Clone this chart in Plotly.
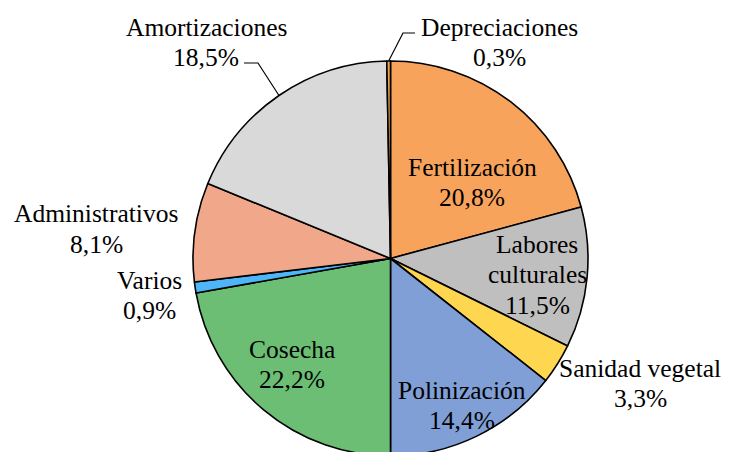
import math
import plotly.graph_objects as go

# data
categorias = ["Fertilización", "Labores culturales", "Sanidad vegetal", "Polinización",
              "Cosecha", "Varios", "Administrativos", "Amortizaciones", "Depreciaciones"]
porcentajes = [20.8, 11.5, 3.3, 14.4, 22.2, 0.9, 8.1, 18.5, 0.3]
etiquetas = [["Fertilización"], ["Labores", "culturales"], ["Sanidad vegetal"], ["Polinización"],
             ["Cosecha"], ["Varios"], ["Administrativos"], ["Amortizaciones"], ["Depreciaciones"]]

colores = ["#F8A35C", "#BFBFBF", "#FFD650", "#7F9FD6", "#6BBE74",
           "#4DB5F8", "#F1A88A", "#D9D9D9", "#E9A54A"]

W, H = 732, 452
OFF = 8  # page body margin: figure sits 8px in from the window corner
cx, cy, r = 390.5, 258.5, 197.5

# label centres (window pixels), first line of each label
label_pos = {
    "Fertilización": (472, 167),
    "Labores culturales": (537, 244),
    "Sanidad vegetal": (640, 368),
    "Polinización": (462, 390),
    "Cosecha": (292, 349),
    "Varios": (149, 280),
    "Administrativos": (96, 214),
    "Amortizaciones": (206, 27),
    "Depreciaciones": (499, 27),
}
# elbow points of leader lines (label end, bend)
leaders = {
    "Amortizaciones": [(244, 63), (258, 63)],
    "Depreciaciones": [(415, 33), (403, 33)],
}
line_gap = 30.5
font = dict(family="Liberation Serif", size=25.5, color="black")


def px(x):
    return (x - OFF) / W


def py(y):
    return 1 - (y - OFF) / H


fig = go.Figure(go.Pie(
    labels=categorias,
    values=porcentajes,
    sort=False,
    direction="clockwise",
    rotation=0,
    textinfo="none",
    hoverinfo="label+percent",
    marker=dict(colors=colores, line=dict(color="black", width=1.6)),
    domain=dict(x=[px(cx - r), px(cx + r)], y=[py(cy + r), py(cy - r)]),
    showlegend=False,
))

annotations = []
shapes = []
total = sum(porcentajes)
acum = 0
for cat, val, lines in zip(categorias, porcentajes, etiquetas):
    mid = (acum + val / 2) / total * 2 * math.pi
    acum += val
    x0, y0 = label_pos[cat]
    pct = f"{val:.1f}%".replace(".", ",")
    for i, t in enumerate(lines + [pct]):
        annotations.append(dict(
            x=px(x0), y=py(y0 + i * line_gap), xref="paper", yref="paper",
            text=t, showarrow=False, xanchor="center", yanchor="middle", font=font,
        ))
    if cat in leaders:
        ex = cx + r * math.sin(mid)
        ey = cy - r * math.cos(mid)
        pts = leaders[cat] + [(ex, ey)]
        path = "M " + " L ".join(f"{px(a)},{py(b)}" for a, b in pts)
        shapes.append(dict(type="path", path=path, xref="paper", yref="paper",
                           line=dict(color="black", width=1.2)))

fig.update_layout(
    width=W, height=H,
    margin=dict(l=0, r=0, t=0, b=0),
    paper_bgcolor="white",
    plot_bgcolor="white",
    annotations=annotations,
    shapes=shapes,
)

fig.write_html("out.html")
